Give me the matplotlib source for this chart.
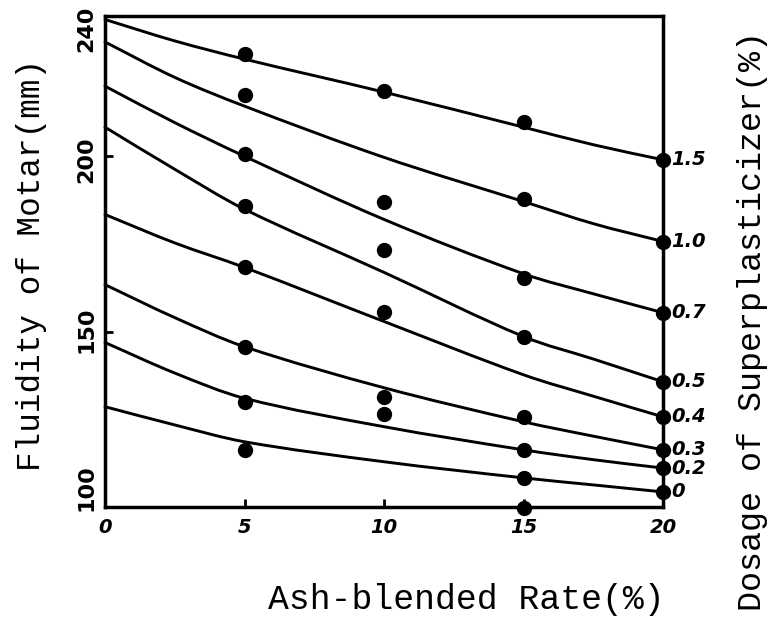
import matplotlib
matplotlib.use("Agg")
import matplotlib.pyplot as plt
import matplotlib.transforms as mtransforms
from matplotlib.path import Path
from matplotlib.patches import PathPatch

# Data
curve_x = [0, 2.5, 5, 10, 15, 17.5, 20]
dosages = ["1.5", "1.0", "0.7", "0.5", "0.4", "0.3", "0.2", "0"]
curve_1_5 = [239.0, 232.9, 227.7, 218.3, 208.3, 203.3, 199.0]
curve_1_0 = [232.6, 222.5, 214.3, 199.7, 187.1, 180.8, 175.7]
curve_0_7 = [220.0, 209.6, 200.0, 182.0, 166.5, 160.8, 155.4]
curve_0_5 = [208.3, 196.3, 184.9, 166.9, 148.6, 142.2, 135.7]
curve_0_4 = [183.4, 175.3, 168.3, 152.9, 137.7, 131.6, 125.7]
curve_0_3 = [163.4, 154.0, 145.7, 134.0, 124.3, 120.2, 116.3]
curve_0_2 = [146.9, 138.2, 131.0, 122.9, 116.3, 113.5, 111.1]
curve_0_0 = [128.6, 123.4, 118.6, 112.9, 108.3, 106.3, 104.3]
curves = [curve_1_5, curve_1_0, curve_0_7, curve_0_5,
          curve_0_4, curve_0_3, curve_0_2, curve_0_0]

pts_x5 = [229.1, 217.4, 200.6, 185.7, 168.3, 145.7, 130.0, 116.3]
pts_x10 = [218.6, 186.9, 173.4, 155.7, 131.4, 126.6]
pts_x15 = [209.7, 187.7, 165.4, 148.6, 125.7, 116.3, 108.3, 99.7]
pts_x20 = [199.0, 175.7, 155.4, 135.7, 125.7, 116.3, 111.1, 104.3]

xticks = [0, 5, 10, 15, 20]
xticklabels = ["0", "5", "10", "15", "20"]
yticks = [100, 150, 200, 240]
yticklabels = ["100", "150", "200", "240"]

fig = plt.figure(figsize=(7.81, 6.19), dpi=100)
ax = fig.add_axes([105/781, 1-507/619, (663-105)/781, (507-16)/619])
ax.set_xlim(0, 20)
ax.set_ylim(100, 240)


def smooth_path(xs, ys):
    """Catmull-Rom curve through the given data points, as a Bezier path."""
    pts = list(zip(xs, ys))
    n = len(pts)
    verts = [pts[0]]
    codes = [Path.MOVETO]
    for i in range(n - 1):
        p0 = pts[i - 1] if i > 0 else pts[i]
        p1 = pts[i]
        p2 = pts[i + 1]
        p3 = pts[i + 2] if i + 2 < n else pts[i + 1]
        h = p2[0] - p1[0]
        s1 = (p2[1] - p0[1]) / (p2[0] - p0[0]) if p2[0] != p0[0] else 0
        s2 = (p3[1] - p1[1]) / (p3[0] - p1[0]) if p3[0] != p1[0] else 0
        c1 = (p1[0] + h / 3, p1[1] + s1 * h / 3)
        c2 = (p2[0] - h / 3, p2[1] - s2 * h / 3)
        verts += [c1, c2, p2]
        codes += [Path.CURVE4] * 3
    return Path(verts, codes)


for c in curves:
    patch = PathPatch(smooth_path(curve_x, c), facecolor="none", edgecolor="black",
                      lw=2.1, capstyle="round", joinstyle="round", zorder=3,
                      clip_on=False, transform=ax.transData)
    ax.add_patch(patch)

for xv, ys in [(5, pts_x5), (10, pts_x10), (15, pts_x15), (20, pts_x20)]:
    ax.plot([xv]*len(ys), ys, "o", color="black", ms=10, clip_on=False, zorder=4)

for lab, c in zip(dosages, curves):
    ax.text(20.3, c[-1], lab, fontsize=14, fontweight="bold", fontstyle="italic",
            va="center", ha="left", family="DejaVu Sans")

ax.set_xticks(xticks)
ax.set_xticklabels(xticklabels, fontsize=14, fontweight="bold", fontstyle="italic")
ax.set_yticks(yticks)
ax.set_yticklabels(yticklabels, fontsize=16, fontweight="bold", rotation=90, va="center")
ax.tick_params(direction="in", length=6, width=2)
ax.tick_params(axis="x", pad=8)
ax.tick_params(axis="y", pad=6)
offsets_px = {"100": 19, "150": 2, "200": -3, "240": -13}
for t in ax.get_yticklabels():
    dy = offsets_px.get(t.get_text(), 0)
    t.set_transform(t.get_transform() +
                    mtransforms.ScaledTranslation(0, dy / 100, fig.dpi_scale_trans))
for s in ax.spines.values():
    s.set_linewidth(2.5)

mono = "Liberation Mono"
ax.set_xlabel("Ash-blended Rate(%)", fontsize=25, family=mono)
ax.xaxis.set_label_coords((466 - 105) / 558, -(600 - 507) / 491)
ax.xaxis.label.set_va("center")
ax.set_ylabel("Fluidity of Motar(mm)", fontsize=23.5, family=mono)
ax.yaxis.set_label_coords(-(105 - 32) / 558, (507 - 265) / 491)
ax.yaxis.label.set_va("center")
fig.text(752/781, 1 - 321/619, "Dosage of Superplasticizer(%)", rotation=90, fontsize=24,
         family=mono, ha="center", va="center")

fig.savefig("out.png", dpi=100)
